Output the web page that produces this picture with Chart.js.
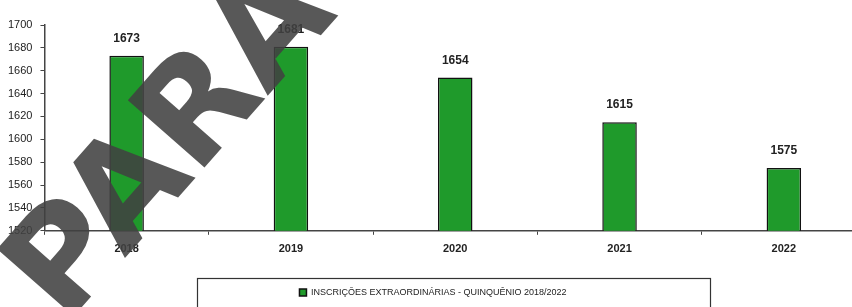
<!DOCTYPE html>
<html>
<head>
<meta charset="utf-8">
<script src="https://cdn.jsdelivr.net/npm/chart.js@4"></script>
<style>
  html, body { margin: 0; padding: 0; background: #fff; overflow: hidden; }
  #wrap { width: 866px; height: 307px; }
</style>
</head>
<body>
<div id="wrap"><canvas id="myChart"></canvas></div>
<script>
// data
let xlabels = ['2018', '2019', '2020', '2021', '2022'];
let xdata = [1673, 1681, 1654, 1615, 1575];
let seriesName = 'INSCRIÇÕES EXTRAORDINÁRIAS - QUINQUÊNIO 2018/2022';
let yMin = 1520, yMax = 1700, yStep = 20;

const fontFam = '"Liberation Sans Narrow", "Liberation Sans", Arial, sans-serif';

// value labels above bars
const valueLabels = {
  id: 'valueLabels',
  afterDatasetsDraw(chart) {
    const ctx = chart.ctx;
    const meta = chart.getDatasetMeta(0);
    ctx.save();
    ctx.font = 'bold 12px ' + fontFam;
    ctx.fillStyle = '#222';
    ctx.textAlign = 'center';
    ctx.textBaseline = 'bottom';
    meta.data.forEach((bar, i) => {
      ctx.fillText(String(xdata[i]), bar.x, bar.y - 11);
    });
    ctx.restore();
  }
};

// frame round the legend + scan stamp
const extras = {
  id: 'extras',
  afterDraw(chart) {
    const ctx = chart.ctx;
    ctx.save();
    ctx.strokeStyle = '#333';
    ctx.lineWidth = 1.2;
    ctx.strokeRect(197.5, 278.5, 513, 40);
    ctx.restore();

    // "PARA" stamp over the page
    ctx.save();
    ctx.translate(38, 302);
    ctx.rotate(-0.85);
    ctx.font = 'bold 140px "DejaVu Sans", sans-serif';
    ctx.fillStyle = 'rgba(65,65,65,0.88)';
    ctx.textAlign = 'left';
    ctx.textBaseline = 'middle';
    ctx.fillText('PARA', 0, 0);
    ctx.restore();
  }
};

new Chart(document.getElementById('myChart'), {
  type: 'bar',
  data: {
    labels: xlabels,
    datasets: [{
      label: seriesName,
      data: xdata,
      backgroundColor: '#1f9a2b',
      borderColor: '#111',
      borderWidth: 1.5,
      barPercentage: 0.21,
      categoryPercentage: 1.0
    }]
  },
  options: {
    responsive: true,
    maintainAspectRatio: false,
    animation: false,
    layout: { padding: { top: 25, left: 0, right: 0, bottom: 0 } },
    plugins: {
      title: { display: false },
      tooltip: { enabled: false },
      legend: {
        display: true,
        position: 'bottom',
        align: 'center',
        labels: {
          boxWidth: 7,
          boxHeight: 7,
          color: '#222',
          padding: 14,
          font: { size: 9, family: '"Liberation Sans", Arial, sans-serif' }
        }
      }
    },
    scales: {
      x: {
        grid: { display: true, drawOnChartArea: false, color: '#444', tickLength: 4, offset: true },
        border: { color: '#444', width: 1.5 },
        ticks: { color: '#222', font: { size: 11, weight: 'bold', family: fontFam }, padding: 8 },
        afterFit(scale) { scale.height += 10; }
      },
      y: {
        min: yMin,
        max: yMax,
        grid: { display: true, drawOnChartArea: false, color: '#444', tickLength: 4 },
        border: { color: '#444', width: 1.5 },
        ticks: {
          stepSize: yStep, color: '#222', padding: 8,
          font: { size: 11, family: fontFam },
          callback: v => String(v)
        }
      }
    }
  },
  plugins: [valueLabels, extras]
});
</script>
</body>
</html>
